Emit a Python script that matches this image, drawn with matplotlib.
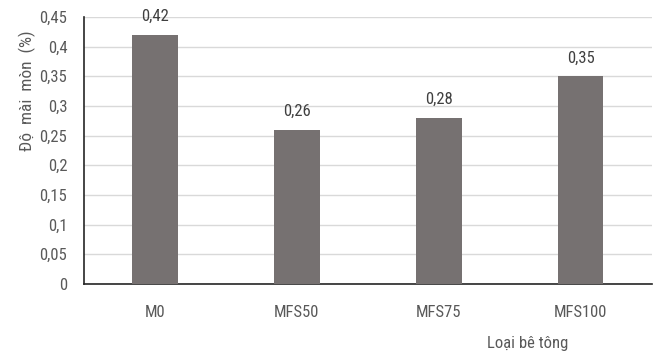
import matplotlib
matplotlib.use('Agg')
import matplotlib.pyplot as plt
from matplotlib import font_manager
import numpy as np

categories = ['M0', 'MFS50', 'MFS75', 'MFS100']
values = [0.42, 0.26, 0.28, 0.35]
value_labels = ['0,42', '0,26', '0,28', '0,35']
yticks = [0, 0.05, 0.1, 0.15, 0.2, 0.25, 0.3, 0.35, 0.4, 0.45]
ytick_labels = ['0', '0,05', '0,1', '0,15', '0,2', '0,25', '0,3', '0,35', '0,4', '0,45']

names = {f.name for f in font_manager.fontManager.ttflist}
fams = [n for n in ['Liberation Sans Narrow', 'Roboto Condensed', 'Open Sans Condensed',
                    'DejaVu Sans'] if n in names]
plt.rcParams['font.family'] = fams
plt.rcParams['font.stretch'] = 'condensed'
text_color = '#595959'

fig = plt.figure(figsize=(6.61, 3.54), dpi=100)
ax = fig.add_axes([0.127, 0.198, 0.859, 0.754])

x = np.arange(len(categories))
ax.bar(x, values, width=0.32, color='#767171', zorder=3)
for xi, v, lab in zip(x, values, value_labels):
    ax.text(xi, v + 0.018, lab, ha='center', va='bottom', fontsize=12, color='#404040')

ax.set_xlim(-0.5, len(categories) - 0.5)
ax.set_ylim(0, 0.45)
ax.set_yticks(yticks)
ax.set_yticklabels(ytick_labels)
ax.set_xticks(x)
ax.set_xticklabels(categories)
ax.tick_params(length=0, labelsize=12, colors=text_color)
ax.tick_params(axis='x', pad=15)
ax.tick_params(axis='y', pad=12)

ax.yaxis.grid(True, color='#d9d9d9', linewidth=1, zorder=0)
for s in ['top', 'right']:
    ax.spines[s].set_visible(False)
ax.spines['left'].set_color('#262626')
ax.spines['bottom'].set_color('#262626')
ax.spines['left'].set_linewidth(1.2)
ax.spines['bottom'].set_linewidth(1.2)

fig.text(0.042, 0.745, 'Độ  mài  mòn  (%)', rotation=90, ha='center', va='center',
         fontsize=12.5, color=text_color)
fig.text(0.799, 0.031, 'Loại bê tông', ha='center', va='center',
         fontsize=12, color=text_color)

fig.savefig('out.png', dpi=100)
